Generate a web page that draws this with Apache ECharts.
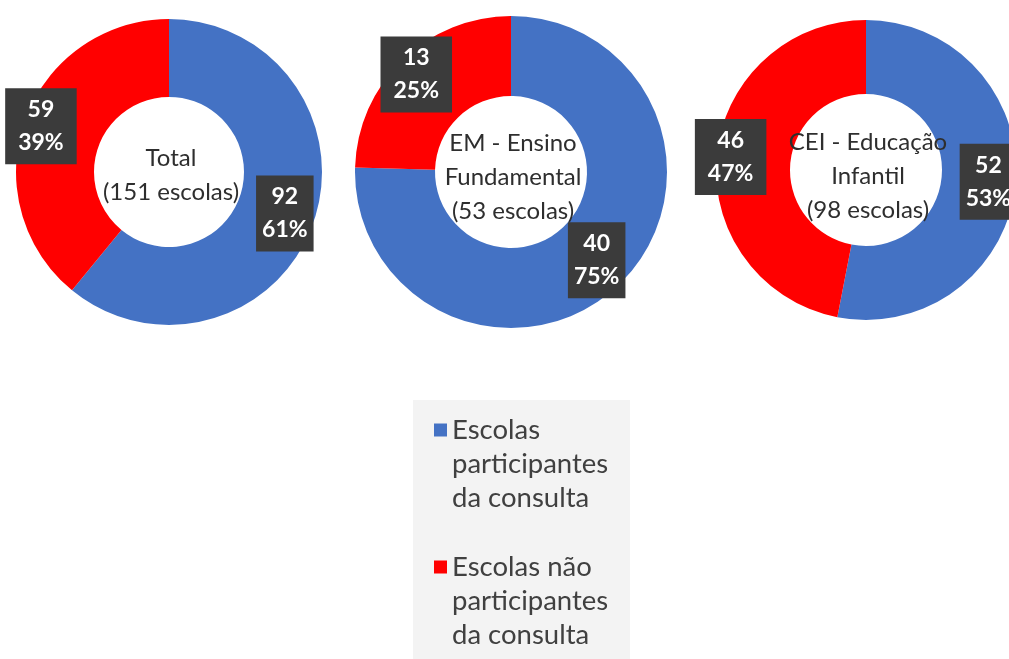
<!DOCTYPE html>
<html>
  <head>
    <meta charset="utf-8" />
    <script src="https://cdn.jsdelivr.net/npm/echarts@6/dist/echarts.min.js"></script>
  </head>
  <body style="margin: 0; background: #fff">
    <div id="main" style="width: 1009px; height: 659px"></div>

    <script type="text/javascript">
      // data
      const categories = [
        "Escolas participantes da consulta",
        "Escolas não participantes da consulta",
      ];
      const legendLabels = [
        "Escolas\nparticipantes\nda consulta",
        "Escolas não\nparticipantes\nda consulta",
      ];
      const pieTitles = [
        "Total\n(151 escolas)",
        "EM - Ensino\nFundamental\n(53 escolas)",
        "CEI - Educação\nInfantil\n(98 escolas)",
      ];
      const participating = [92, 40, 52];
      const nonParticipating = [59, 13, 46];

      const colors = ["#4472c4", "#ff0000"];

      // layout of the three donuts
      const centers = [
        [169, 172],
        [511, 172],
        [866, 170],
      ];
      const radii = [
        [75, 153],
        [76, 156],
        [76, 150],
      ];
      const titleY = [175, 177, 176];
      const legendTops = [345, 482];
      // value boxes: how far out from the centre, and box padding, per category
      const labelRadius = [120, 133];
      const labelPadding = [
        [5, 6],
        [5, 13],
      ];

      const series = [];
      const graphics = [
        {
          type: "rect",
          shape: { x: 413, y: 400, width: 217, height: 259 },
          style: { fill: "#f3f3f3" },
          z: -1,
        },
      ];

      pieTitles.forEach(function (title, i) {
        const values = [participating[i], nonParticipating[i]];
        const data = categories.map(function (name, k) {
          return { name: name, value: values[k] };
        });
        // the donut itself
        series.push({
          type: "pie",
          center: centers[i],
          radius: radii[i],
          startAngle: 90,
          clockwise: true,
          avoidLabelOverlap: false,
          silent: true,
          label: { show: false },
          labelLine: { show: false },
          itemStyle: { borderWidth: 0 },
          data: data,
        });
        // transparent rings that only carry the value boxes
        categories.forEach(function (cat, k) {
          series.push({
            type: "pie",
            center: centers[i],
            radius: [labelRadius[k] - 30, labelRadius[k] + 30],
            startAngle: 90,
            clockwise: true,
            avoidLabelOverlap: false,
            silent: true,
            z: 5,
            itemStyle: { color: "transparent" },
            labelLine: { show: false },
            label: {
              show: true,
              position: "inside",
              formatter: function (p) {
                return p.value + "\n" + Math.round(p.percent) + "%";
              },
              color: "#fff",
              fontFamily: "Lato",
              fontWeight: "bold",
              fontSize: 23,
              lineHeight: 33,
              align: "center",
              backgroundColor: "#3b3b3b",
              padding: labelPadding[k],
            },
            data: data.map(function (d, j) {
              return j === k ? d : { name: d.name, value: d.value, label: { show: false } };
            }),
          });
        });
        graphics.push({
          type: "text",
          x: centers[i][0] + 2,
          y: titleY[i],
          z: 10,
          style: {
            text: title,
            align: "center",
            verticalAlign: "middle",
            fontFamily: "Lato",
            fontSize: 24,
            lineHeight: 34,
            fill: "#2e2e2e",
          },
        });
      });

      // one legend per entry so each icon sits next to the first text line
      const legends = categories.map(function (name, i) {
        return {
          orient: "vertical",
          left: 434,
          top: legendTops[i],
          height: 400,
          padding: 0,
          itemWidth: 13,
          itemHeight: 13,
          icon: "rect",
          selectedMode: false,
          data: [{ name: name, itemStyle: { color: colors[i] } }],
          // two empty lines on top so the icon lines up with the first line
          formatter: function (n) {
            return "\n\n" + legendLabels[categories.indexOf(n)];
          },
          textStyle: {
            fontFamily: "Lato",
            fontSize: 27.5,
            lineHeight: 34,
            color: "#404040",
          },
        };
      });

      var option = {
        backgroundColor: "#fff",
        animation: false,
        legend: legends,
        color: colors,
        graphic: graphics,
        series: series,
      };

      const myChart = echarts.init(document.getElementById("main"));
      myChart.setOption(option);
    </script>
  </body>
</html>
